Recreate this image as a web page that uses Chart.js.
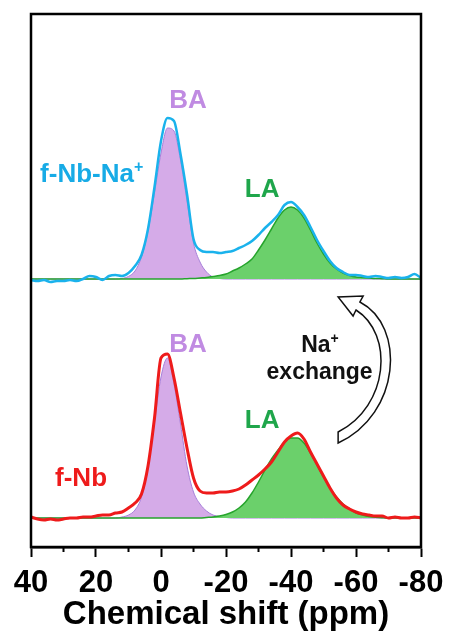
<!DOCTYPE html>
<html>
<head>
<meta charset="utf-8">
<script src="https://cdn.jsdelivr.net/npm/chart.js@4"></script>
<style>
  html, body { margin: 0; padding: 0; background: #fff; }
  #wrap { width: 450px; height: 635px; }
</style>
</head>
<body>
<div id="wrap"><canvas id="nmrChart"></canvas></div>
<script>
// chemical shift grid (ppm)
const shifts = [40, 38, 36, 34, 32, 30, 28, 26, 24, 22, 20, 18, 16, 14, 12, 10, 8, 6, 4, 2,
    0, -2, -4, -6, -8, -10, -12, -14, -16, -18, -20, -22, -24, -26, -28, -30, -32, -34, -36, -38,
    -40, -42, -44, -46, -48, -50, -52, -54, -56, -58, -60, -62, -64, -66, -68, -70, -72, -74, -76, -78, -80];

// f-Nb-Na+ (upper trace) and its fitted components
const naExchanged = [-1, -2, -1, -3, -2, -2, -1, -2, 0, 3, 2, -1, 3, 4, 3, 6, 13, 24, 50, 92,
    138, 161, 158, 125, 85, 40, 29, 27, 27, 26, 27, 28, 31, 34, 38, 44, 51, 57, 64, 74,
    77, 72, 64, 52, 39, 28, 18, 11, 7, 4, 4, 3, 2, 3, 2, 1, 2, 1, 2, 5, 1];
const naBA = [0, 0, 0, 0, 0, 0, 0, 0, 0, 0, 0, 0, 0, 0, 0.6, 2.6, 8, 22, 48, 86,
    126, 151, 148, 119, 78, 36, 17, 7, 2, 0.5, 0, 0, 0, 0, 0, 0, 0, 0, 0, 0,
    0, 0, 0, 0, 0, 0, 0, 0, 0, 0, 0, 0, 0, 0, 0, 0, 0, 0, 0, 0, 0];
const naLA = [0, 0, 0, 0, 0, 0, 0, 0, 0, 0, 0, 0, 0, 0, 0, 0, 0, 0, 0, 0,
    0, 0, 0, 0, 0.3, 0.5, 1, 1.5, 2.5, 3.5, 5, 8, 11, 15, 20, 29, 39, 50, 61, 69,
    72, 69, 61, 49, 36, 25, 16, 10, 6, 3.5, 2, 1.5, 1, 0.5, 0.3, 0, 0, 0, 0, 0, 0];

// f-Nb (lower trace) and its fitted components
const fNb = [1, -1, -2, -1, -2, -1, 0, 0, 1, 1, 2, 3, 3, 5, 6, 10, 15, 24, 52, 100,
    160, 164, 140, 105, 70, 40, 27, 25, 25, 26, 26, 27, 29, 33, 38, 43, 49, 56, 66, 76,
    82, 85, 79, 66, 54, 42, 30, 20, 13, 9, 6, 4, 3, 2, 2, 0, 1, 0, 0, 1, 0];
const fNbBA = [0, 0, 0, 0, 0, 0, 0, 0, 0, 0, 0, 0, 0, 0, 1, 3, 8, 21, 50, 96,
    141, 160, 134, 94, 52, 26, 14, 7, 3, 1.5, 0.5, 0, 0, 0, 0, 0, 0, 0, 0, 0,
    0, 0, 0, 0, 0, 0, 0, 0, 0, 0, 0, 0, 0, 0, 0, 0, 0, 0, 0, 0, 0];
const fNbLA = [0, 0, 0, 0, 0, 0, 0, 0, 0, 0, 0, 0, 0, 0, 0, 0, 0, 0, 0, 0,
    0, 0, 0, 0, 0, 0, 0, 0.5, 1, 2, 3.5, 6, 10, 16, 25, 36, 48, 59, 68, 76,
    80, 80, 75, 65, 53, 41, 30, 21, 14, 9, 5, 3, 1.5, 0.8, 0.3, 0, 0, 0, 0, 0, 0];

const xTicks = [40, 20, 0, -20, -40, -60, -80];

// vertical offsets of the stacked spectra
const TOP_BASE = 268;
const BOTTOM_BASE = 29;

const FONT = '"Liberation Sans", Arial, sans-serif';
const PURPLE_FILL = '#d5abe8';
const PURPLE_LINE = '#a67fd9';
const GREEN_FILL = '#6bd06b';
const GREEN_LINE = '#26a42c';

function toPoints(values, base) {
    return shifts.map((s, i) => ({ x: s, y: values[i] + base }));
}

function traceSet(values, base, color, width) {
    return {
        data: toPoints(values, base),
        borderColor: color,
        borderWidth: width,
        fill: false,
        order: 0
    };
}

function fitSet(values, base, fillColor, lineColor, width, order) {
    return {
        data: toPoints(values, base),
        borderColor: lineColor,
        backgroundColor: fillColor,
        borderWidth: width,
        fill: { value: base },
        order: order
    };
}

// text with an optional superscript part
function label(ctx, text, sup, x, y, color, size, align) {
    ctx.save();
    ctx.fillStyle = color;
    ctx.textBaseline = 'alphabetic';
    ctx.font = 'bold ' + size + 'px ' + FONT;
    const w = ctx.measureText(text).width;
    ctx.font = 'bold ' + Math.round(size * 0.62) + 'px ' + FONT;
    const sw = sup ? ctx.measureText(sup).width : 0;
    let left = x;
    if (align === 'center') left = x - (w + sw) / 2;
    ctx.font = 'bold ' + size + 'px ' + FONT;
    ctx.fillText(text, left, y);
    if (sup) {
        ctx.font = 'bold ' + Math.round(size * 0.62) + 'px ' + FONT;
        ctx.fillText(sup, left + w, y - size * 0.38);
    }
    ctx.restore();
}

const decorations = {
    id: 'decorations',
    afterDraw(chart) {
        const ctx = chart.ctx;
        const xs = chart.scales.x;
        const ys = chart.scales.y;
        const a = chart.chartArea;
        const px = v => xs.getPixelForValue(v);
        const py = v => ys.getPixelForValue(v);

        // frame
        ctx.save();
        ctx.strokeStyle = '#000';
        ctx.lineWidth = 2.5;
        ctx.strokeRect(a.left, a.top, a.right - a.left, a.bottom - a.top);

        // minor ticks
        ctx.lineWidth = 2;
        for (let v = 30; v > -80; v -= 20) {
            ctx.beginPath();
            ctx.moveTo(px(v), a.bottom);
            ctx.lineTo(px(v), a.bottom + 5);
            ctx.stroke();
        }
        ctx.restore();

        // peak labels
        label(ctx, 'BA', '', px(-8.3), py(439), '#c08be2', 26, 'center');
        label(ctx, 'LA', '', px(-31.1), py(350), '#1fa64b', 26, 'center');
        label(ctx, 'f-Nb-Na', '+', px(37.2), py(365), '#17abe6', 26, 'left');
        label(ctx, 'BA', '', px(-8.3), py(195), '#c08be2', 26, 'center');
        label(ctx, 'LA', '', px(-31.1), py(119), '#1fa64b', 26, 'center');
        label(ctx, 'f-Nb', '', px(32.6), py(61), '#ee1b1b', 26, 'left');
        label(ctx, 'Na', '+', px(-48.9), py(195), '#111', 23, 'center');
        label(ctx, 'exchange', '', px(-48.8), py(168), '#111', 23, 'center');

        // curved exchange arrow
        ctx.save();
        ctx.beginPath();
        ctx.moveTo(px(-54.5), py(104));
        ctx.bezierCurveTo(px(-73.8), py(133), px(-75.4), py(221), px(-61.2), py(245));
        ctx.lineTo(px(-62.2), py(251));
        ctx.lineTo(px(-54.5), py(250));
        ctx.lineTo(px(-59.1), py(231));
        ctx.lineTo(px(-60), py(237));
        ctx.bezierCurveTo(px(-71.7), py(213), px(-70.2), py(141), px(-54.5), py(115));
        ctx.closePath();
        ctx.fillStyle = '#fff';
        ctx.fill();
        ctx.strokeStyle = '#111';
        ctx.lineWidth = 1.5;
        ctx.lineJoin = 'miter';
        ctx.stroke();
        ctx.restore();
    }
};

const ctx = document.getElementById('nmrChart').getContext('2d');
new Chart(ctx, {
    type: 'line',
    data: {
        datasets: [
            traceSet(naExchanged, TOP_BASE, '#1ab2ec', 2.5),
            fitSet(naLA, TOP_BASE, GREEN_FILL, GREEN_LINE, 1.5, 1),
            fitSet(naBA, TOP_BASE, PURPLE_FILL, PURPLE_LINE, 1, 2),
            traceSet(fNb, BOTTOM_BASE, '#ee1b1b', 3),
            fitSet(fNbLA, BOTTOM_BASE, GREEN_FILL, GREEN_LINE, 1.5, 1),
            fitSet(fNbBA, BOTTOM_BASE, PURPLE_FILL, PURPLE_LINE, 1, 2)
        ]
    },
    options: {
        responsive: true,
        maintainAspectRatio: false,
        animation: false,
        layout: {
            padding: { left: 31, right: 29, top: 14, bottom: 6.5 }
        },
        elements: {
            point: { radius: 0 },
            line: { cubicInterpolationMode: 'monotone' }
        },
        plugins: {
            legend: { display: false },
            tooltip: { enabled: false }
        },
        scales: {
            x: {
                type: 'linear',
                min: -80,
                max: 40,
                reverse: true,
                afterBuildTicks: scale => {
                    // majors from xTicks, minors in between (drawn by plugin)
                    scale.ticks = xTicks.map(v => ({ value: v }));
                },
                afterFit: scale => {
                    // fixed axis band so the plot frame lands where the original sits
                    scale.paddingLeft = 0;
                    scale.paddingRight = 0;
                    scale.height = 81.5;
                },
                ticks: {
                    autoSkip: false,
                    maxRotation: 0,
                    padding: 10.5,
                    color: '#000',
                    font: { family: FONT, size: 31, weight: 'bold', lineHeight: 1 }
                },
                grid: {
                    drawOnChartArea: false,
                    drawTicks: true,
                    tickLength: 10,
                    tickWidth: 2,
                    tickColor: '#000'
                },
                border: { display: true, color: '#000', width: 2.5 },
                title: {
                    display: true,
                    text: 'Chemical shift (ppm)',
                    color: '#000',
                    padding: { top: 0, bottom: -3 },
                    font: { family: FONT, size: 33, weight: 'bold', lineHeight: 1 }
                }
            },
            y: {
                display: false,
                min: 0,
                max: 533
            }
        }
    },
    plugins: [decorations]
});
</script>
</body>
</html>
